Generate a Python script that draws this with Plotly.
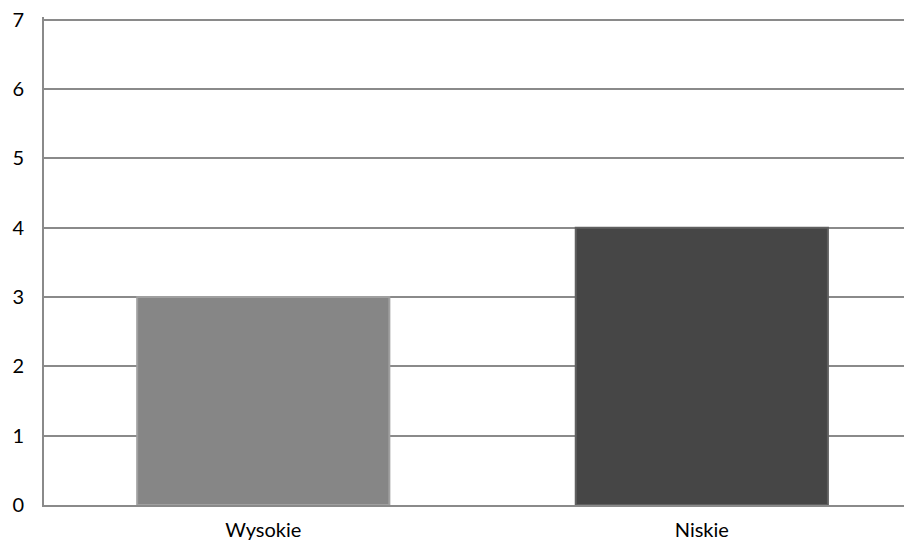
import plotly.graph_objects as go

categories = ["Wysokie", "Niskie"]
values = [3, 4]
bar_colors = ["#868686", "#464646"]
edge_colors = ["#a0a0a0", "#606060"]
y_ticks = [0, 1, 2, 3, 4, 5, 6, 7]

fig = go.Figure()
fig.add_trace(go.Bar(
    x=categories, y=values,
    marker=dict(color=bar_colors, line=dict(color=edge_colors, width=2)),
    width=0.575,
))

fig.update_layout(
    width=896, height=539,
    margin=dict(l=36, r=0, t=9, b=42),
    paper_bgcolor="white", plot_bgcolor="white",
    font=dict(family="Lato, Open Sans, sans-serif", size=20, color="#000000"),
    showlegend=False,
    bargap=0.425,
)
fig.update_xaxes(
    range=[-0.5, 1.461],
    showline=True, linecolor="#8a8a8a", linewidth=2,
    showgrid=False, ticks="", tickfont=dict(size=20),
    ticklabelstandoff=6, ticklabeloverflow="allow", automargin=False,
)
fig.update_yaxes(
    range=[0, 7.04], tickvals=y_ticks,
    showline=True, linecolor="#8a8a8a", linewidth=2,
    showgrid=True, gridcolor="#8a8a8a", gridwidth=1.5,
    ticks="", ticklen=0, tickfont=dict(size=20),
    ticklabelstandoff=14, ticklabeloverflow="allow", automargin=False,
    zeroline=False,
)
fig.write_html("out.html")
